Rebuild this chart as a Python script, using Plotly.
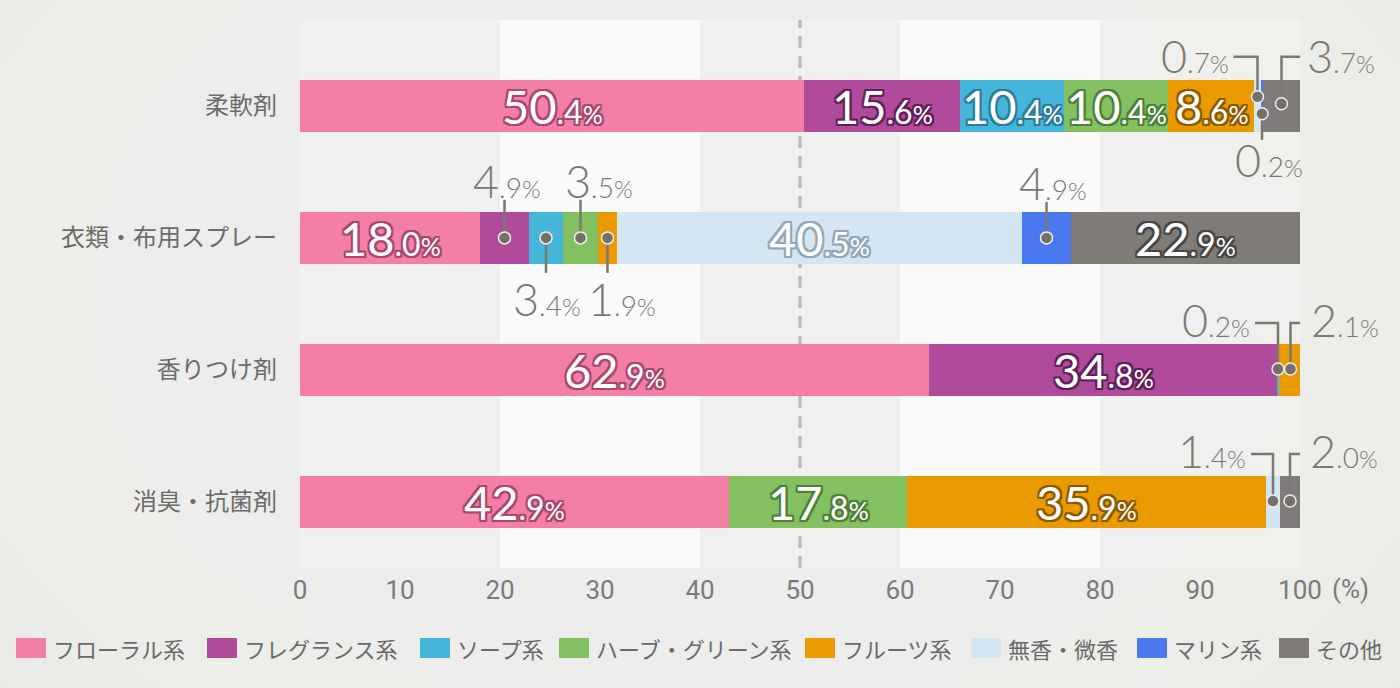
import plotly.graph_objects as go

# 集計データ (%)
categories = ["柔軟剤", "衣類・布用スプレー", "香りつけ剤", "消臭・抗菌剤"]
series_names = ["フローラル系", "フレグランス系", "ソープ系", "ハーブ・グリーン系",
                "フルーツ系", "無香・微香", "マリン系", "その他"]
floral = [50.4, 18.0, 62.9, 42.9]
fragrance = [15.6, 4.9, 34.8, 0]
soap = [10.4, 3.4, 0.2, 0]
herb = [10.4, 3.5, 0, 17.8]
fruit = [8.6, 1.9, 2.1, 35.9]
unscented = [0.7, 40.5, 0, 1.4]
marine = [0.2, 4.9, 0, 0]
other = [3.7, 22.9, 0, 2.0]
x_ticks = [0, 10, 20, 30, 40, 50, 60, 70, 80, 90, 100]

series = [floral, fragrance, soap, herb, fruit, unscented, marine, other]
colors = ["#f47fa6", "#b04b9b", "#45b6d9", "#82c060",
          "#e89a00", "#d4e6f1", "#4a78f0", "#7f7c78"]
edge = ["#a8476f", "#5f2157", "#2c7c9c", "#4e8038",
        "#8c5a00", "#93a7b6", "#2a4aa0", "#474544"]

W, H = 1400, 688
ML, MR, MT, MB = 300, 100, 20, 120
PW, PH = W - ML - MR, H - MT - MB
Y_RANGE = [3.5, -0.65]
PX_X = PW / 100.0                    # px per %
PX_Y = PH / (Y_RANGE[0] - Y_RANGE[1])  # px per category
GREY = "#7b7870"
NUM_FONT = "Lato, 'Noto Sans', sans-serif"
JP_FONT = "'Noto Sans CJK JP', 'Noto Sans', sans-serif"


def pct(v, big, small, tiny):
    whole, dec = f"{v:.1f}".split(".")
    return (f"<span style='font-size:{big}px'>{whole}</span>"
            f"<span style='font-size:{small}px'>.{dec}</span>"
            f"<span style='font-size:{tiny}px'>%</span>")


def outline(c, w=2):
    offs = [(w, 0), (-w, 0), (0, w), (0, -w), (w, w), (-w, -w), (w, -w), (-w, w)]
    return ", ".join(f"{a}px {b}px 0 {c}" for a, b in offs)


# 小さい値の引き出し線 (px, セグメント中心から): 点, 折れ線, 文字位置
callouts = {
    (0, 5): ((0, -9), [(0, -9), (0, -49), (-24, -49)], (-27, -50, "right")),
    (0, 6): ((0, 8), [(0, 8), (0, 34)], (7, 54, "center")),
    (0, 7): ((0, -2), [(0, -2), (0, -49), (20, -49)], (23, -50, "left")),
    (1, 1): ((0, 0), [(0, 0), (0, -38)], (2, -57, "center")),
    (1, 2): ((0, 0), [(0, 0), (0, 35)], (1, 61, "center")),
    (1, 3): ((0, 0), [(0, 0), (0, -38)], (18, -57, "center")),
    (1, 4): ((0, 0), [(0, 0), (0, 35)], (14, 61, "center")),
    (1, 6): ((0, 0), [(0, 0), (0, -36)], (6, -55, "center")),
    (2, 2): ((0, -1), [(0, -1), (0, -47), (-23, -47)], (-26, -50, "right")),
    (2, 4): ((1, -1), [(1, -1), (1, -47), (16, -47)], (19, -50, "left")),
    (3, 5): ((0, -1), [(0, -1), (0, -48), (-22, -48)], (-25, -51, "right")),
    (3, 7): ((0, -1), [(0, -1), (0, -48), (15, -48)], (18, -51, "left")),
}

fig = go.Figure()
rows = list(range(len(categories)))
for name, vals, col in zip(series_names, series, colors):
    fig.add_trace(go.Bar(y=rows, x=vals, name=name, orientation="h",
                         marker=dict(color=col, line=dict(width=0)),
                         width=0.394, showlegend=False, hoverinfo="x+name"))

annotations = []
line_x, line_y, dot_x, dot_y = [], [], [], []
for r in rows:
    start = 0.0
    for s, vals in enumerate(series):
        v = vals[r]
        mid = start + v / 2
        start += v
        if v <= 0:
            continue
        if (r, s) in callouts:
            dot, path, (tx, ty, anc) = callouts[(r, s)]
            for px, py in path:
                line_x.append(mid + px / PX_X)
                line_y.append(r + py / PX_Y)
            line_x.append(None)
            line_y.append(None)
            dot_x.append(mid + dot[0] / PX_X)
            dot_y.append(r + dot[1] / PX_Y)
            annotations.append(dict(
                x=mid, y=r, xref="x", yref="y", text=pct(v, 45, 28, 24),
                xanchor=anc, yanchor="middle", xshift=tx, yshift=-ty,
                showarrow=False, font=dict(family=NUM_FONT, color=GREY, weight=300)))
        elif v >= 8:
            annotations.append(dict(
                x=mid, y=r, xref="x", yref="y", text=pct(v, 47, 32, 25),
                xanchor="center", yanchor="middle", showarrow=False,
                font=dict(family=NUM_FONT, color="white", weight=400,
                          shadow=outline(edge[s]))))

fig.add_trace(go.Scatter(x=line_x, y=line_y, mode="lines", cliponaxis=False,
                         line=dict(color=GREY, width=2.5), showlegend=False,
                         hoverinfo="skip"))
fig.add_trace(go.Scatter(x=dot_x, y=dot_y, mode="markers", cliponaxis=False,
                         marker=dict(size=12, color="#757168",
                                     line=dict(color="#eeeeea", width=1.5)),
                         showlegend=False, hoverinfo="skip"))

shapes = []
# 背景のうっすらとした放射グラデーション
for k in range(14):
    rad = 1050 - k * 55
    cx, cy = 700, 300
    shapes.append(dict(type="circle", xref="paper", yref="paper", layer="below",
                       x0=(cx - rad - ML) / PW, x1=(cx + rad - ML) / PW,
                       y0=(H - MB - cy - rad * 0.7) / PH, y1=(H - MB - cy + rad * 0.7) / PH,
                       fillcolor="rgba(255,255,255,0.05)", line=dict(width=0)))
# 20%ごとの帯
for b in range(5):
    shapes.append(dict(type="rect", xref="x", yref="paper", layer="below",
                       x0=b * 20, x1=b * 20 + 20, y0=0, y1=1,
                       fillcolor="rgba(255,255,255,0.7)" if b % 2 else "rgba(255,255,255,0.18)",
                       line=dict(width=0)))
# 50% 破線
shapes.append(dict(type="line", xref="x", yref="paper", layer="below",
                   x0=50, x1=50, y0=0, y1=1,
                   line=dict(color="#b8b8b8", width=3, dash="12px,8px")))

# 凡例 (手描き)
legend_x = [16, 207, 420, 559, 805, 971, 1137, 1279]
for name, col, lx in zip(series_names, colors, legend_x):
    shapes.append(dict(type="rect", xref="paper", yref="paper",
                       x0=(lx - ML) / PW, x1=(lx + 30 - ML) / PW,
                       y0=(H - MB - 658) / PH, y1=(H - MB - 638) / PH,
                       fillcolor=col, line=dict(width=0)))
    annotations.append(dict(x=(lx + 35 - ML) / PW, y=(H - MB - 648) / PH,
                            xref="paper", yref="paper", text=name, showarrow=False,
                            xanchor="left", yanchor="middle",
                            font=dict(family=JP_FONT, size=22, color="#6a6a6a")))

annotations.append(dict(x=100, y=0, xref="x", yref="paper", text="(%)",
                        showarrow=False, xanchor="left", yanchor="top",
                        xshift=30, yshift=-4,
                        font=dict(family="Roboto, sans-serif", size=26, color="#7a7a7a")))

fig.update_layout(
    width=W, height=H,
    margin=dict(l=ML, r=MR, t=MT, b=MB),
    paper_bgcolor="#e6e6e2", plot_bgcolor="rgba(0,0,0,0)",
    barmode="stack", showlegend=False,
    shapes=shapes, annotations=annotations,
)
fig.update_xaxes(range=[0, 100], tickvals=x_ticks, showgrid=False, zeroline=False,
                 showline=False, ticks="", ticklabelstandoff=4,
                 tickfont=dict(family="Roboto, sans-serif", size=26, color="#7a7a7a"))
fig.update_yaxes(range=Y_RANGE, tickvals=rows, ticktext=categories, showgrid=False,
                 zeroline=False, showline=False, ticks="", ticklabelstandoff=22,
                 tickfont=dict(family=JP_FONT, size=24, color="#6b6b6b"))

fig.write_html("out.html", config={"displayModeBar": False},
               post_script="document.body.style.margin='0';"
                           "document.body.style.overflow='hidden';")
